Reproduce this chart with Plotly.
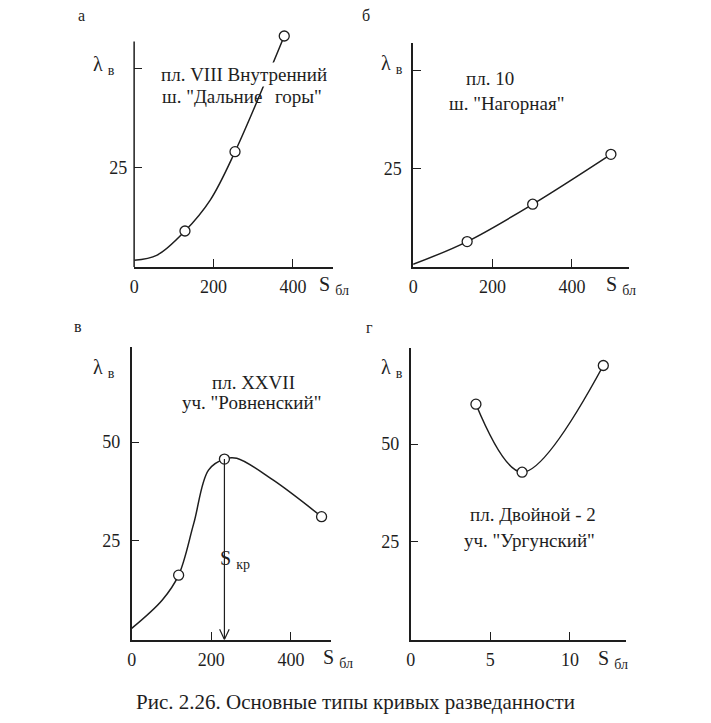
import plotly.graph_objects as go

W, H = 711, 723
OFF = 8  # default page body margin
FW, FH = W - OFF, H - OFF

# ---------------- data ----------------
# panel а
a_pts_x = [128, 254, 378]
a_pts_y = [9.05, 29.0, 58.1]
a_curve_x = [0, 58, 128, 192, 254, 378]
a_curve_y = [1.7, 3.0, 9.05, 16.9, 29.0, 58.1]
a_axis_top = 56.7
# panel б
b_pts_x = [136, 301, 498]
b_pts_y = [6.4, 15.9, 28.6]
b_curve_x = [0, 136, 301, 498]
b_curve_y = [0.6, 6.4, 15.9, 28.6]
# panel в
v_pts_x = [118, 233, 477]
v_pts_y = [16.3, 45.7, 31.1]
v_curve_x = [0, 77, 118, 156, 193, 233, 264, 355, 477]
v_curve_y = [2.8, 10.0, 16.3, 29.4, 42.9, 45.7, 45.9, 40.4, 31.1]
s_kr = 233
# panel г
g_pts_x = [4.1, 7.0, 12.1]
g_pts_y = [60.2, 42.8, 70.1]
g_curve_x = [4.1, 7.0, 12.1]
g_curve_y = [60.2, 42.8, 70.1]

x_ticks_ab = [0, 200, 400]
x_ticks_v = [0, 200, 400]
x_ticks_g = [0, 5, 10]
y_ticks = [25, 50]
y_text_top = ["25", ""]
y_text_bottom = ["25", "50"]

panel_letters = ["а", "б", "в", "г"]
titles = [
    ["пл. VIII Внутренний", "ш. \"Дальние", "горы\""],
    ["пл. 10", "ш. \"Нагорная\""],
    ["пл. XXVII", "уч. \"Ровненский\""],
    ["пл. Двойной - 2", "уч. \"Ургунский\""],
]
caption = "Рис. 2.26. Основные типы кривых разведанности"

FONT = "Liberation Serif"
INK = "#1e1e1e"
FS_TICK = 18
FS_TITLE = 19


def px(x):
    return (x - OFF) / FW


def py(y):
    return 1 - (y - OFF) / FH


fig = go.Figure()

# axes geometry in pixels: (left, right), (bottom, top), ranges
panels = [
    dict(xd=(130, 330), yd=(267, 267 - 60 * 3.976), xr=[0, 500], yr=[0, 60], xt=x_ticks_ab, yt=y_text_top, yline=False),
    dict(xd=(411, 628.6), yd=(266.7, 42.7), xr=[0, 544], yr=[0, 57], xt=x_ticks_ab, yt=y_text_top, yline=True),
    dict(xd=(127.5, 328), yd=(639.5, 347.3), xr=[0, 500], yr=[0, 74], xt=x_ticks_v, yt=y_text_bottom, yline=True),
    dict(xd=(408.5, 625), yd=(639.5, 348.3), xr=[0, 13.5], yr=[0, 74.5], xt=x_ticks_g, yt=y_text_bottom, yline=True),
]

curves = [
    (a_curve_x, a_curve_y, a_pts_x, a_pts_y),
    (b_curve_x, b_curve_y, b_pts_x, b_pts_y),
    (v_curve_x, v_curve_y, v_pts_x, v_pts_y),
    (g_curve_x, g_curve_y, g_pts_x, g_pts_y),
]

for i, (p, (cx, cy, mx, my)) in enumerate(zip(panels, curves)):
    n = "" if i == 0 else str(i + 1)
    xa, ya = "x" + n, "y" + n
    fig.add_trace(go.Scatter(x=cx, y=cy, mode="lines", line=dict(color=INK, width=1.5, shape="spline", smoothing=1.0),
                             xaxis=xa, yaxis=ya, showlegend=False, hoverinfo="skip"))
    fig.add_trace(go.Scatter(x=mx, y=my, mode="markers", cliponaxis=False,
                             marker=dict(symbol="circle", size=10, color="white", line=dict(color=INK, width=1.3)),
                             xaxis=xa, yaxis=ya, showlegend=False))
    axis_common = dict(linecolor=INK, linewidth=1.5, ticks="inside", ticklen=8, tickwidth=1.3,
                       tickcolor=INK, showgrid=False, zeroline=False,
                       tickfont=dict(family=FONT, size=FS_TICK, color=INK), fixedrange=True)
    fig.layout["xaxis" + n] = dict(axis_common, showline=True, domain=[px(p["xd"][0]), px(p["xd"][1])],
                                   range=p["xr"], tickvals=p["xt"], anchor=ya, ticklabelstandoff=3)
    fig.layout["yaxis" + n] = dict(axis_common, showline=p["yline"], domain=[py(p["yd"][0]), py(p["yd"][1])],
                                   range=p["yr"], tickvals=y_ticks, ticktext=p["yt"], anchor=xa, ticklabelstandoff=6)

# y axis line of panel а stops below the last point
fig.add_shape(type="line", xref="x domain", yref="y", x0=0, x1=0, y0=0, y1=a_axis_top,
              line=dict(color=INK, width=1.5))

# arrow S_кр in panel в
fig.add_shape(type="line", xref="x3", yref="y3", x0=s_kr, x1=s_kr, y0=v_pts_y[1], y1=0,
              line=dict(color=INK, width=1.2))
fig.add_shape(type="path", xref="x3", yref="y3",
              path=f"M {s_kr-12},2.6 L {s_kr},0 L {s_kr+12},2.6", line=dict(color=INK, width=1.2))

ann = []


def text(x, y, s, size=FS_TITLE, bg=None, xanchor="center"):
    d = dict(x=px(x), y=py(y), xref="paper", yref="paper", text=s, showarrow=False,
             font=dict(family=FONT, size=size, color=INK), xanchor=xanchor, yanchor="middle")
    if bg:
        d["bgcolor"] = bg
    ann.append(d)


# panel letters
text(77, 15, panel_letters[0], size=16)
text(364, 15, panel_letters[1], size=16)
text(73, 326, panel_letters[2], size=16)
text(367, 327, panel_letters[3], size=16)

# axis names
for (lx, ly) in [(100, 65), (390, 64), (100, 368), (390, 368)]:
    text(lx, ly, "λ <sub>в</sub>", size=20)
for (sx, sy) in [(331, 285), (620, 285), (335, 658), (612, 659)]:
    text(sx, sy, "S <sub>бл</sub>", size=20)

# panel titles
text(241, 74, titles[0][0], bg="white")
text(208, 97, titles[0][1])
text(296, 97, titles[0][2])
text(488, 78, titles[1][0])
text(505, 103, titles[1][1])
text(250, 382, titles[2][0])
text(248, 403, titles[2][1])
text(532, 514, titles[3][0])
text(528, 540, titles[3][1])

# S_кр label
text(232, 559, "S <sub>кр</sub>", size=20)

# caption
text(353, 702, caption, size=21)

fig.update_layout(annotations=ann, width=FW, height=FH, margin=dict(l=0, r=0, t=0, b=0),
                  paper_bgcolor="white", plot_bgcolor="white")

fig.write_html("out.html", config={"displayModeBar": False})
